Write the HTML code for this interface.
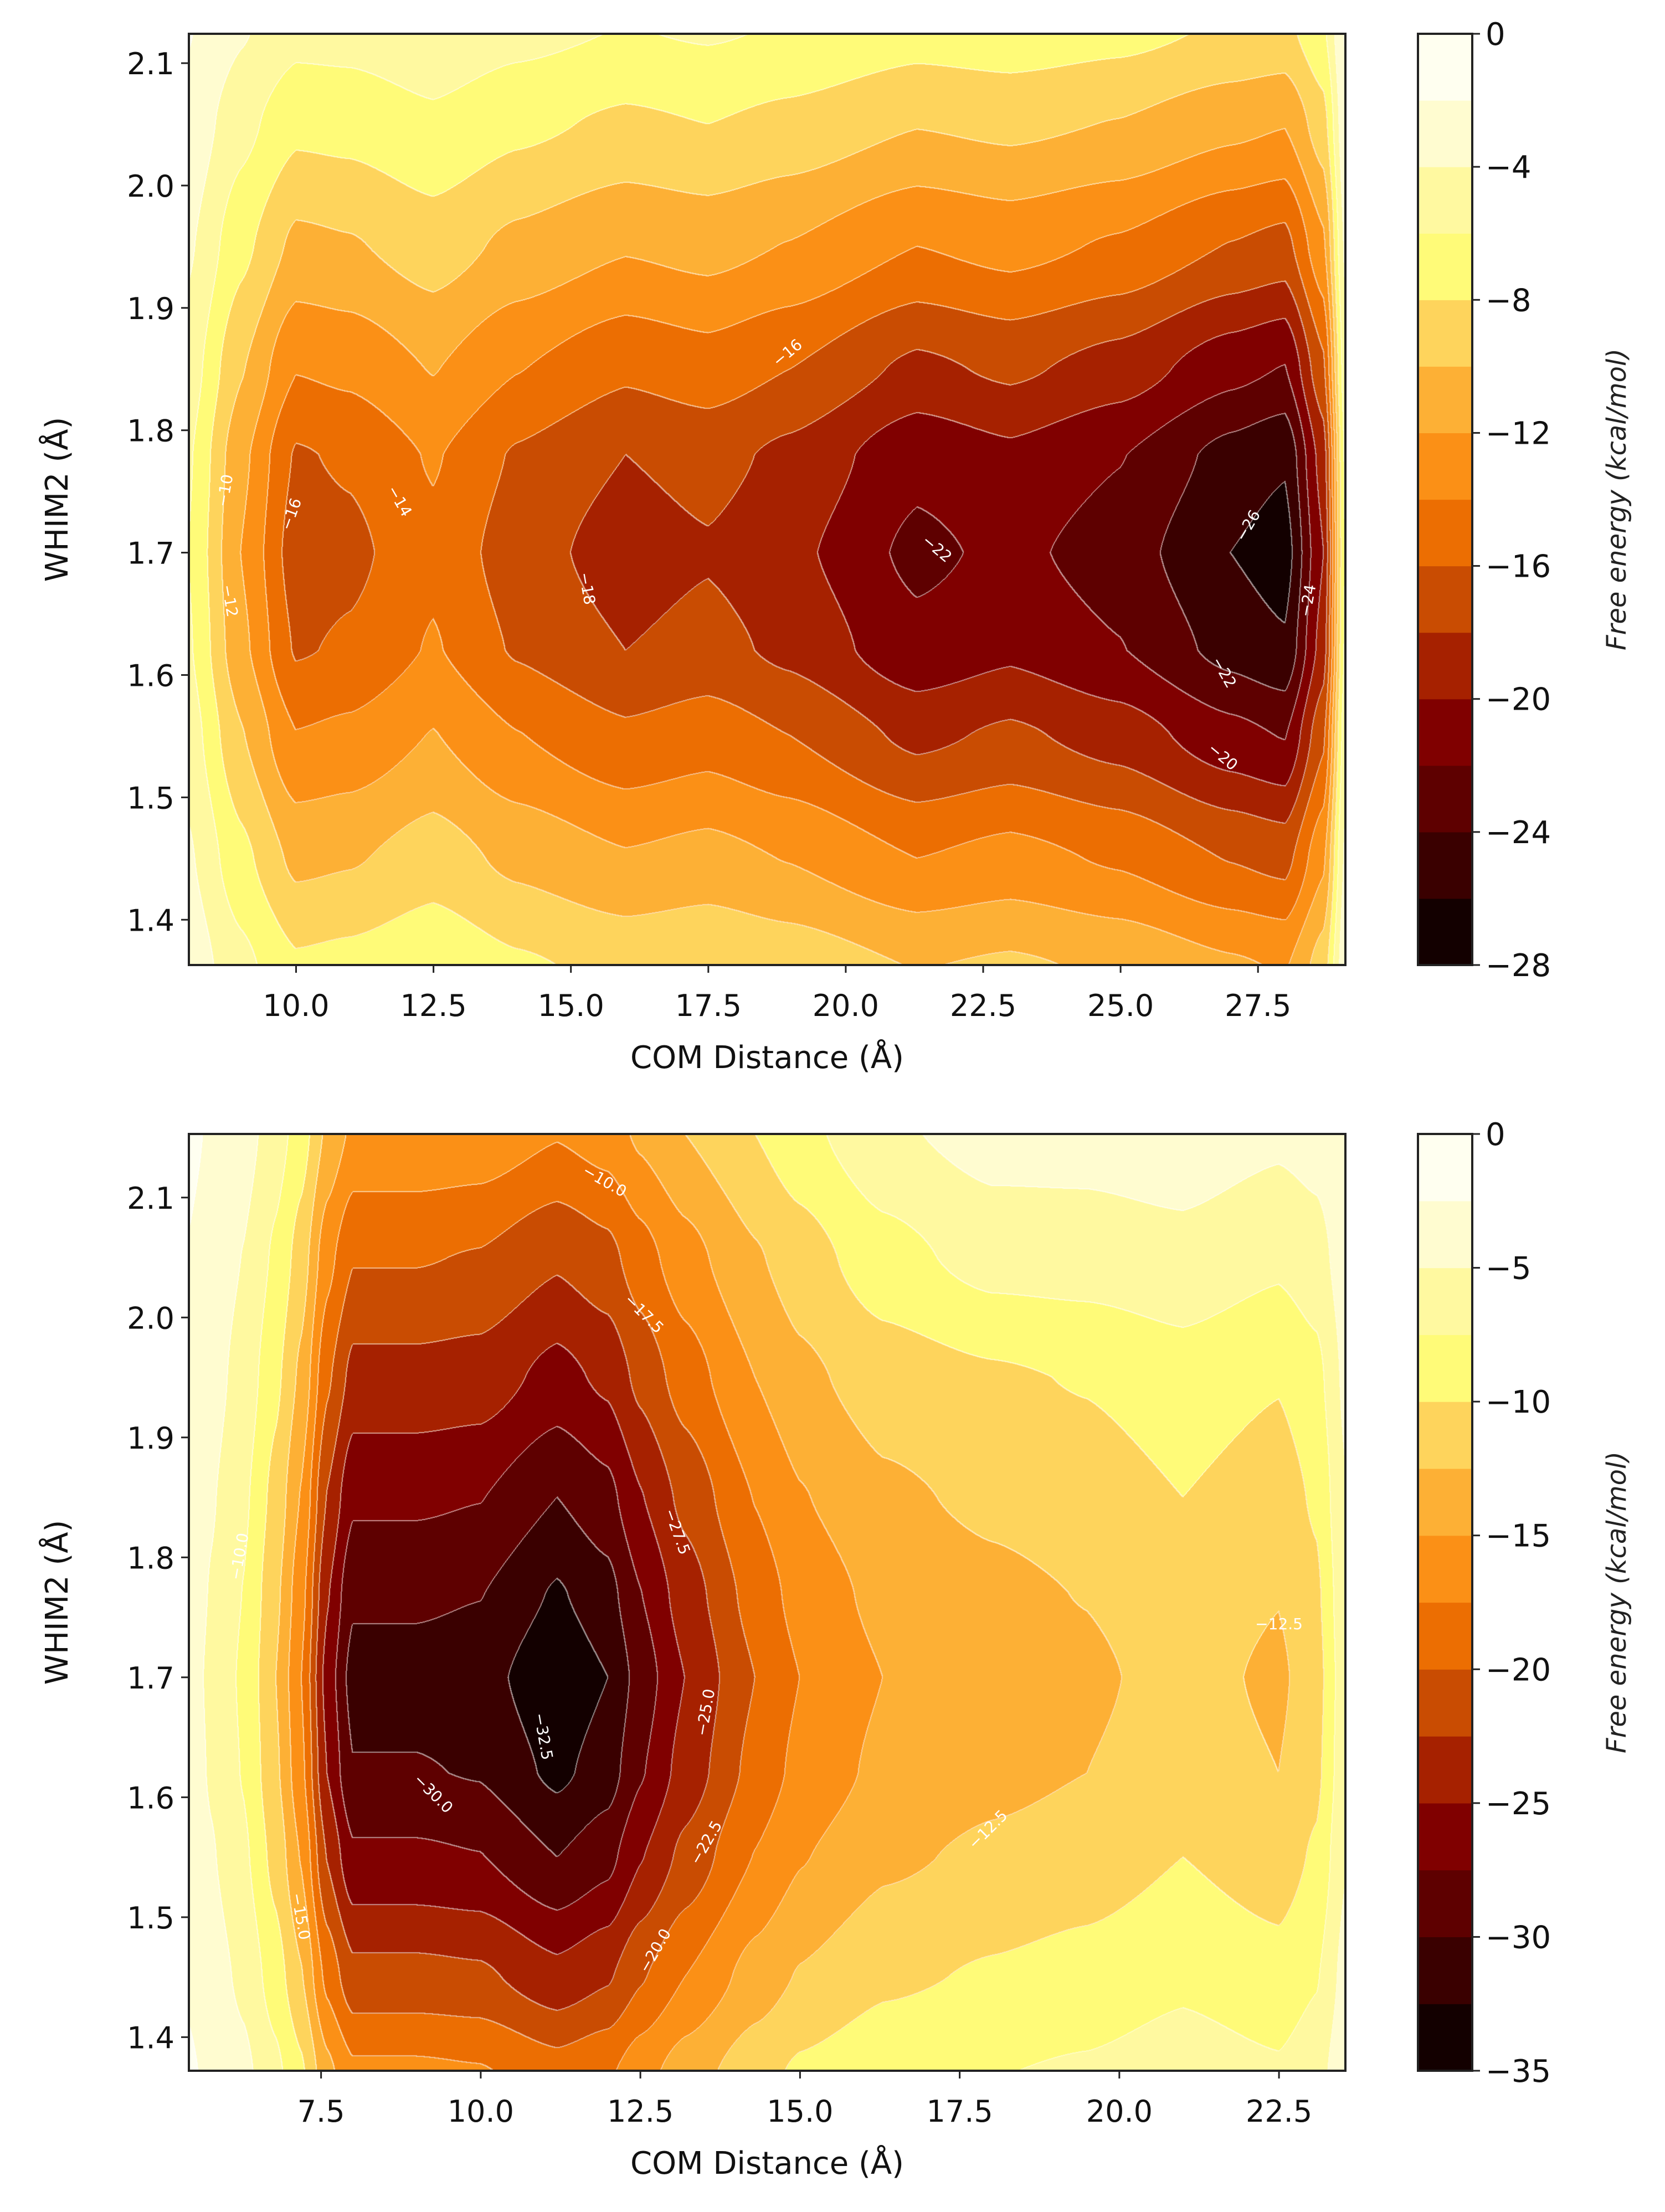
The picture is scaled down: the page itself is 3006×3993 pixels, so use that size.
<!DOCTYPE html>
<html><head><meta charset="utf-8">
<style>
html,body{margin:0;padding:0;background:#fff;}
body{width:3006px;height:3993px;position:relative;overflow:hidden;font-family:"DejaVu Sans","Liberation Sans",sans-serif;}
canvas{position:absolute;}
svg{position:absolute;left:0;top:0;}
</style></head>
<body>
<canvas id="c1" style="left:341px;top:61px" width="2088" height="1681"></canvas>
<canvas id="c2" style="left:341px;top:2047px" width="2088" height="1691"></canvas>
<svg id="ov" width="3006" height="3993"></svg>
<script>
// ---------- TOP PLOT DATA ----------
const topX = [8.05, 9, 10, 11, 12.5, 14, 16, 17.5, 19, 21.3, 23, 25, 27, 28, 28.7, 29.09];
const topY = [1.363, 1.45, 1.55, 1.62, 1.7, 1.78, 1.85, 1.95, 2.05, 2.124];
const topZ = [
 [-2.7,-5.4,-7.7,-7.4,-6.5,-7.7,-8.6,-8.2,-8.8,-10.1,-9.7,-10.4,-11.7,-12.2,-9,-2.7],
 [-3.7,-7.4,-10.5,-10.2,-9,-10.5,-11.8,-11.3,-12.1,-14,-13.3,-14.3,-16.1,-16.7,-12.4,-3.7],
 [-4.9,-9.8,-13.9,-13.5,-11.9,-13.9,-15.6,-14.9,-16,-18.5,-17.6,-18.9,-21.3,-22.1,-16.4,-4.9],
 [-5.7,-11.4,-16.2,-15.7,-13.8,-16.2,-18,-17.3,-18.5,-21.4,-20.4,-21.9,-24.7,-25.7,-19,-5.7],
 [-6,-12,-17,-16.5,-14.5,-17,-19,-18.2,-19.5,-22.5,-21.5,-23,-26,-27,-20,-6],
 [-5.7,-11.4,-16.2,-15.7,-13.8,-16.2,-18,-17.3,-18.5,-21.4,-20.4,-21.9,-24.7,-25.7,-19,-5.7],
 [-4.9,-9.8,-13.9,-13.5,-11.9,-13.9,-15.6,-14.9,-16,-18.5,-17.6,-18.9,-21.3,-22.1,-16.4,-4.9],
 [-3.7,-7.4,-10.5,-10.2,-9,-10.5,-11.8,-11.3,-12.1,-14,-13.3,-14.3,-16.1,-16.7,-12.4,-3.7],
 [-2.6,-5.3,-7.5,-7.3,-6.4,-7.5,-8.4,-8,-8.6,-9.9,-9.5,-10.1,-11.4,-11.9,-8.8,-2.6],
 [-1.9,-3.8,-5.4,-5.3,-4.6,-5.4,-6.1,-5.8,-6.2,-7.2,-6.9,-7.4,-8.3,-8.6,-6.4,-1.9]
];
const topXTicks = [10.0, 12.5, 15.0, 17.5, 20.0, 22.5, 25.0, 27.5];
const topYTicks = [1.4, 1.5, 1.6, 1.7, 1.8, 1.9, 2.0, 2.1];
const topCbTicks = [0, -4, -8, -12, -16, -20, -24, -28];

// ---------- BOTTOM PLOT DATA ----------
const botX = [5.43,5.8,6.3,6.8,7.2,7.6,8.0,9.0,10.0,11.2,12.0,12.5,13.2,14.3,15.0,16.3,18,19.5,21,22.5,23.1,23.54];
const botY = [1.372,1.45,1.55,1.62,1.7,1.77,1.85,1.95,2.05,2.153];
const botZ = [
 [-2.2,-3,-4.4,-6.9,-9.6,-14.3,-17,-17,-17.3,-19,-17.9,-16,-13.8,-11,-9.6,-8.3,-7.6,-7.2,-6.3,-7.2,-6,-3.3],
 [-2.8,-3.9,-5.6,-8.8,-12.3,-18.2,-21.7,-21.7,-22,-24.2,-22.8,-20.3,-17.5,-14,-12.3,-10.5,-9.7,-9.1,-8,-9.1,-7.7,-4.2],
 [-3.5,-4.8,-7,-10.9,-15.2,-22.6,-27,-27,-27.4,-30,-28.3,-25.2,-21.8,-17.4,-15.2,-13,-12,-11.3,-10,-11.3,-9.6,-5.2],
 [-3.8,-5.3,-7.7,-12,-16.8,-25,-29.8,-29.8,-30.2,-33.1,-31.2,-27.8,-24,-19.2,-16.8,-14.4,-13.2,-12.5,-11,-12.5,-10.6,-5.8],
 [-4,-5.5,-8,-12.5,-17.5,-26,-31,-31,-31.5,-34.5,-32.5,-29,-25,-20,-17.5,-15,-13.8,-13,-11.5,-13,-11,-6],
 [-3.8,-5.2,-7.6,-11.9,-16.6,-24.7,-29.5,-29.5,-29.9,-32.8,-30.9,-27.6,-23.8,-19,-16.6,-14.3,-13.1,-12.4,-10.9,-12.4,-10.5,-5.7],
 [-3.5,-4.8,-7,-10.9,-15.2,-22.6,-27,-27,-27.4,-30,-28.3,-25.2,-21.8,-17.4,-15.2,-13,-12,-11.3,-10,-11.3,-9.6,-5.2],
 [-3,-4.1,-6,-9.4,-13.1,-19.5,-23.3,-23.3,-23.6,-25.9,-24.4,-21.8,-18.8,-15,-13.1,-11.3,-10.4,-9.8,-8.6,-9.8,-8.3,-4.5],
 [-2.6,-3.5,-5.1,-8,-11.2,-16.6,-19.8,-19.8,-20.2,-22.1,-20.8,-18.6,-16,-12.8,-11.2,-8.5,-6.5,-6.3,-5.8,-7,-6,-3.8],
 [-2,-2.8,-4,-6.3,-8.8,-13,-15.5,-15.5,-15.8,-17.3,-16.3,-14.5,-12.5,-10,-8.3,-5.5,-4,-4,-3.5,-4.5,-4,-3]
];
const botXTicks = [7.5, 10.0, 12.5, 15.0, 17.5, 20.0, 22.5];
const botYTicks = [1.4, 1.5, 1.6, 1.7, 1.8, 1.9, 2.0, 2.1];
const botCbTicks = [0, -5, -10, -15, -20, -25, -30, -35];

// band colors, lowest (darkest) to highest
const bandColors = ["#130000","#3a0000","#5e0000","#800000","#a62100","#c94c02","#ec6e02","#fb9016","#fdb035","#fed45c","#fffb78","#fff9a0","#fffcd0","#fffff0"];

function hex(c){return [parseInt(c.slice(1,3),16),parseInt(c.slice(3,5),16),parseInt(c.slice(5,7),16)];}
const rgb = bandColors.map(hex);

function locate(arr, v){
  let i=0; while(i<arr.length-2 && v>arr[i+1]) i++;
  let t=(v-arr[i])/(arr[i+1]-arr[i]); t=Math.max(0,Math.min(1,t));
  t=t*t*(3-2*t)*0.5+t*0.5;
  return [i,t];
}

function drawContour(cv, X, Y, Z, xmin, xmax, ymin, ymax, vmin, step){
  const W=cv.width, H=cv.height, ctx=cv.getContext('2d');
  const img=ctx.createImageData(W,H);
  const band=new Int8Array(W*H);
  const cx=[],cy=[];
  for(let px=0;px<W;px++) cx.push(locate(X, xmin+(px+0.5)/W*(xmax-xmin)));
  for(let py=0;py<H;py++) cy.push(locate(Y, ymax-(py+0.5)/H*(ymax-ymin)));
  for(let py=0;py<H;py++){
    const [j,ty]=cy[py];
    for(let px=0;px<W;px++){
      const [i,tx]=cx[px];
      const v=(Z[j][i]*(1-tx)+Z[j][i+1]*tx)*(1-ty)+(Z[j+1][i]*(1-tx)+Z[j+1][i+1]*tx)*ty;
      let k=Math.floor((v-vmin)/step); k=Math.max(0,Math.min(13,k));
      band[py*W+px]=k;
    }
  }
  for(let py=0;py<H;py++){
    for(let px=0;px<W;px++){
      const k=band[py*W+px];
      let c=rgb[k];
      let edge=false;
      if(px+2<W && band[py*W+px+2]!==k) edge=true;
      if(py+2<H && band[(py+2)*W+px]!==k) edge=true;
      const o=(py*W+px)*4;
      if(edge){
        img.data[o]=c[0]*0.45+255*0.55; img.data[o+1]=c[1]*0.45+255*0.55; img.data[o+2]=c[2]*0.45+255*0.55;
      } else { img.data[o]=c[0]; img.data[o+1]=c[1]; img.data[o+2]=c[2]; }
      img.data[o+3]=255;
    }
  }
  ctx.putImageData(img,0,0);
}

drawContour(document.getElementById('c1'), topX, topY, topZ, 8.05, 29.09, 1.363, 2.124, -28, 2);
drawContour(document.getElementById('c2'), botX, botY, botZ, 5.43, 23.54, 1.372, 2.153, -35, 2.5);

const NS="http://www.w3.org/2000/svg";
const svg=document.getElementById('ov');
function el(tag, attrs, text){
  const e=document.createElementNS(NS,tag);
  for(const k in attrs) e.setAttribute(k,attrs[k]);
  if(text!==undefined) e.textContent=text;
  svg.appendChild(e); return e;
}

function axes(p, xt, yt, cbt, xmin, xmax, ymin, ymax, vmin, labels){
  const L=341,R=2429,T=p.top,B=p.bottom;
  const sx=v=>L+(v-xmin)/(xmax-xmin)*(R-L);
  const sy=v=>B-(v-ymin)/(ymax-ymin)*(B-T);
  let f=el('rect',{x:L,y:T,width:R-L,height:B-T,fill:'none',stroke:'#222','stroke-width':4});
  
  
  xt.forEach(v=>{
    const x=sx(v);
    let t=el('line',{x1:x,y1:B,x2:x,y2:B+14,stroke:'#222','stroke-width':3});
    
    
    let l=el('text',{x:x,y:B+92,'font-size':54,'text-anchor':'middle',fill:'#111'}, v.toFixed(1));
    
    
  });
  yt.forEach(v=>{
    const y=sy(v);
    let t=el('line',{x1:L-14,y1:y,x2:L,y2:y,stroke:'#222','stroke-width':3});
    
    
    let l=el('text',{x:L-26,y:y+20,'font-size':54,'text-anchor':'end',fill:'#111'}, v.toFixed(1));
    
    
  });
  let xl=el('text',{x:(L+R)/2,y:p.xlabY,'font-size':56,'text-anchor':'middle',fill:'#111'},'COM Distance (Å)');
  
  
  let yl=el('text',{x:0,y:0,'font-size':56,'text-anchor':'middle',fill:'#111',transform:'translate(122,'+((T+B)/2)+') rotate(-90)'},'WHIM2 (Å)');
  
  
  const CL=2560, CR=2658;
  const bh=(B-T)/14;
  for(let k=0;k<14;k++){
    let r=el('rect',{x:CL,y:B-(k+1)*bh,width:CR-CL,height:bh+0.6,fill:bandColors[k]});
    
    
  }
  let cf=el('rect',{x:CL,y:T,width:CR-CL,height:B-T,fill:'none',stroke:'#222','stroke-width':4});
  
  
  cbt.forEach(v=>{
    const y=B-(v-vmin)/(0-vmin)*(B-T);
    let t=el('line',{x1:CR,y1:y,x2:CR+14,y2:y,stroke:'#222','stroke-width':3});
    
    
    let l=el('text',{x:CR+24,y:y+20,'font-size':56,fill:'#111'}, v===0?'0':'\u2212'+Math.abs(v));
    
    
  });
  let cl=el('text',{x:0,y:0,'font-size':48,'font-style':'italic','text-anchor':'middle',fill:'#222',transform:'translate(2935,'+((T+B)/2)+') rotate(-90)'},'Free energy (kcal/mol)');
  
  
  labels.forEach(a=>{
    let t=el('text',{x:0,y:0,'font-size':28,fill:'#fff','text-anchor':'middle',transform:'translate('+sx(a[0])+','+sy(a[1])+') rotate('+a[3]+')'},a[2]);
    
    
  });
}

const topLabels=[[10,1.73,'\u221216',-70],[11.8,1.74,'\u221214',60],[15.2,1.67,'\u221218',80],[19,1.86,'\u221216',-40],[21.6,1.7,'\u221222',40],[27.4,1.72,'\u221226',-60],[28.5,1.66,'\u221224',-80],[26.8,1.6,'\u221222',60],[26.8,1.53,'\u221220',40],[8.7,1.66,'\u221212',80],[8.8,1.75,'\u221210',-80]];
const botLabels=[[9.2,1.6,'\u221230.0',45],[10.9,1.65,'\u221232.5',80],[13.0,1.82,'\u221227.5',70],[13.6,1.67,'\u221225.0',-80],[13.6,1.56,'\u221222.5',-60],[12.8,1.47,'\u221220.0',-60],[12.5,2.0,'\u221217.5',45],[11.9,2.11,'\u221210.0',30],[18.0,1.57,'\u221212.5',-45],[22.5,1.74,'\u221212.5',0],[7.1,1.5,'\u221215.0',80],[6.3,1.8,'\u221210.0',-80]];

axes({id:'top',top:61,bottom:1742,xlabY:1928}, topXTicks, topYTicks, topCbTicks, 8.05, 29.09, 1.363, 2.124, -28, topLabels);
axes({id:'bottom',top:2047,bottom:3738,xlabY:3924}, botXTicks, botYTicks, botCbTicks, 5.43, 23.54, 1.372, 2.153, -35, botLabels);
</script>
</body></html>
